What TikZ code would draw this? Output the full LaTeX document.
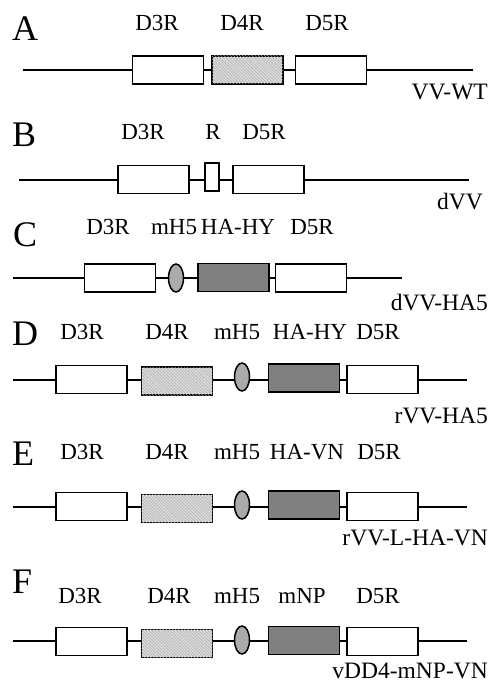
\documentclass[tikz,border=0pt]{standalone}
\usepackage{fontspec}
\setmainfont{Liberation Serif}
\usetikzlibrary{shapes.geometric,patterns.meta}
\tikzset{
  gene/.style={draw,line width=1.5pt,inner sep=0pt,minimum width=71pt,minimum height=28pt,fill=white},
  hatched/.style={gene,fill=black!14,postaction={pattern={Lines[angle=-45,distance=2.2pt,line width=0.5pt]},pattern color=black!32}},
  hagene/.style={gene,fill=black!50},
  spacer/.style={gene,minimum width=14pt},
  promoter/.style={draw,line width=1.5pt,ellipse,inner sep=0pt,minimum width=15pt,minimum height=28pt,fill=black!33},
  backbone/.style={line width=1.5pt},
  genelabel/.style={anchor=base,inner sep=0pt,font=\fontsize{23}{23}\selectfont},
  construct/.style={anchor=base east,inner sep=0pt,font=\fontsize{23.5}{23.5}\selectfont},
  panelletter/.style={anchor=base west,inner sep=0pt,font=\fontsize{36}{36}\selectfont},
}
\begin{document}
\begin{tikzpicture}[x=1pt,y=-1pt]
\useasboundingbox (0,0) rectangle (495,684);

% ---- A: VV-WT
\node[panelletter] (pA) at (12,41) {A};
\node[genelabel] (lA3) at (157,31) {D3R};
\node[genelabel] (lA4) at (242,31) {D4R};
\node[genelabel] (lA5) at (327,31) {D5R};
\coordinate (sA) at (23,70);
\coordinate (eA) at (473,70);
\node[gene] (A3) at (168,70) {};
\node[hatched] (A4) at (247.5,70) {};
\node[gene] (A5) at (331,70) {};
\draw[backbone] (sA) -- (A3.west |- sA) (A3.east |- sA) -- (A4.west |- sA)
  (A4.east |- sA) -- (A5.west |- sA) (A5.east |- sA) -- (eA);
\node[construct] (nA) at (488,100) {VV-WT};

% ---- B: dVV
\node[panelletter] (pB) at (12,147) {B};
\node[genelabel] (lB3) at (143,140) {D3R};
\node[genelabel] (lBR) at (213,140) {R};
\node[genelabel] (lB5) at (264,140) {D5R};
\coordinate (sB) at (19,180);
\coordinate (eB) at (469,180);
\node[gene] (B3) at (153.5,179.5) {};
\node[spacer] (BR) at (212,177) {};
\node[gene] (B5) at (268.5,179.5) {};
\draw[backbone] (sB) -- (B3.west |- sB) (B3.east |- sB) -- (BR.west |- sB)
  (BR.east |- sB) -- (B5.west |- sB) (B5.east |- sB) -- (eB);
\node[construct] (nB) at (483,210) {dVV};

% ---- C: dVV-HA5
\node[panelletter] (pC) at (13,247) {C};
\node[genelabel] (lC3) at (108,235) {D3R};
\node[genelabel] (lCm) at (174,235) {mH5};
\node[genelabel] (lCh) at (238,235) {HA-HY};
\node[genelabel] (lC5) at (312,235) {D5R};
\coordinate (sC) at (13,278);
\coordinate (eC) at (402,278);
\node[gene] (C3) at (120,278) {};
\node[promoter] (Cm) at (176,278) {};
\node[hagene] (Ch) at (233.5,277.5) {};
\node[gene] (C5) at (311,278) {};
\draw[backbone] (sC) -- (C3.west |- sC) (C3.east |- sC) -- (Cm.west |- sC)
  (Cm.east |- sC) -- (Ch.west |- sC) (Ch.east |- sC) -- (C5.west |- sC) (C5.east |- sC) -- (eC);
\node[construct] (nC) at (488,310) {dVV-HA5};

% ---- D: rVV-HA5
\node[panelletter] (pD) at (12,345) {D};
\node[genelabel] (lD3) at (82,339) {D3R};
\node[genelabel] (lD4) at (167,339) {D4R};
\node[genelabel] (lDm) at (237,339) {mH5};
\node[genelabel] (lDh) at (310,339) {HA-HY};
\node[genelabel] (lD5) at (378,339) {D5R};
\coordinate (sD) at (13,380);
\coordinate (eD) at (467,380);
\node[gene] (D3) at (91.5,379.5) {};
\node[hatched] (D4) at (177,381) {};
\node[promoter] (Dm) at (242,377) {};
\node[hagene] (Dh) at (304,378) {};
\node[gene] (D5) at (382.5,379.5) {};
\draw[backbone] (sD) -- (D3.west |- sD) (D3.east |- sD) -- (D4.west |- sD)
  (D4.east |- sD) -- (Dm.west |- sD) (Dm.east |- sD) -- (Dh.west |- sD)
  (Dh.east |- sD) -- (D5.west |- sD) (D5.east |- sD) -- (eD);
\node[construct] (nD) at (488,423) {rVV-HA5};

% ---- E: rVV-L-HA-VN
\node[panelletter] (pE) at (12,465) {E};
\node[genelabel] (lE3) at (82,459) {D3R};
\node[genelabel] (lE4) at (167,459) {D4R};
\node[genelabel] (lEm) at (237,459) {mH5};
\node[genelabel] (lEh) at (307,459) {HA-VN};
\node[genelabel] (lE5) at (379,459) {D5R};
\coordinate (sE) at (13,507);
\coordinate (eE) at (467,507);
\node[gene] (E3) at (91.5,506.5) {};
\node[hatched] (E4) at (177,508.5) {};
\node[promoter] (Em) at (242,505) {};
\node[hagene] (Eh) at (304,505) {};
\node[gene] (E5) at (382.5,506.5) {};
\draw[backbone] (sE) -- (E3.west |- sE) (E3.east |- sE) -- (E4.west |- sE)
  (E4.east |- sE) -- (Em.west |- sE) (Em.east |- sE) -- (Eh.west |- sE)
  (Eh.east |- sE) -- (E5.west |- sE) (E5.east |- sE) -- (eE);
\node[construct] (nE) at (488,545) {rVV-L-HA-VN};

% ---- F: vDD4-mNP-VN
\node[panelletter] (pF) at (12,593) {F};
\node[genelabel] (lF3) at (80,603) {D3R};
\node[genelabel] (lF4) at (169,603) {D4R};
\node[genelabel] (lFm) at (237,603) {mH5};
\node[genelabel] (lFn) at (302,603) {mNP};
\node[genelabel] (lF5) at (378,603) {D5R};
\coordinate (sF) at (13,641);
\coordinate (eF) at (467,641);
\node[gene] (F3) at (91.5,641.5) {};
\node[hatched] (F4) at (177,643.5) {};
\node[promoter] (Fm) at (242,640) {};
\node[hagene] (Fn) at (304,640.5) {};
\node[gene] (F5) at (382.5,641.5) {};
\draw[backbone] (sF) -- (F3.west |- sF) (F3.east |- sF) -- (F4.west |- sF)
  (F4.east |- sF) -- (Fm.west |- sF) (Fm.east |- sF) -- (Fn.west |- sF)
  (Fn.east |- sF) -- (F5.west |- sF) (F5.east |- sF) -- (eF);
\node[construct] (nF) at (488,678) {vDD4-mNP-VN};
\end{tikzpicture}
\end{document}
